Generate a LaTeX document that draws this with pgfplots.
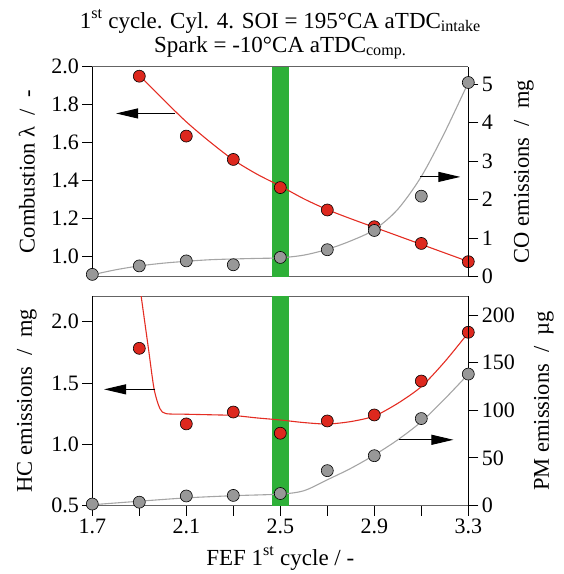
\documentclass[border=0pt]{standalone}
\usepackage{fontspec}
\setmainfont{Liberation Serif}
\usepackage{pgfplots}
\pgfplotsset{compat=1.18}
\usetikzlibrary{arrows.meta}

\definecolor{ptred}{RGB}{221,40,30}
\definecolor{linered}{RGB}{228,45,35}
\definecolor{ptgray}{RGB}{152,152,152}
\definecolor{linegray}{RGB}{165,165,165}
\definecolor{band}{RGB}{46,176,56}
\definecolor{framegray}{RGB}{100,100,100}
\newcommand\fs{\fontsize{22}{24}\selectfont}
\newcommand\fl{\fontsize{22.5}{24}\selectfont}
\newcommand\ft{\fontsize{23}{24}\selectfont}

\tikzset{pointer/.style={line width=1pt, -{Triangle[length=22pt,width=10pt]}}}

\pgfplotsset{
  panel/.style={
    scale only axis, width=376pt, xmin=1.7, xmax=3.3,
    tick align=outside, major tick length=10pt,
    tick style={black, line width=0.9pt},
    tick label style={font=\fs}, label style={font=\fl},
    /pgf/number format/assume math mode=true,
    clip mode=individual,
  },
  leftax/.style={
    panel, separate axis lines,
    x axis line style={draw=framegray, line width=1pt},
    y axis line style={draw=black, line width=1pt},
    ytick pos=left,
    yticklabel style={/pgf/number format/.cd, fixed, fixed zerofill, precision=1},
  },
  rightax/.style={
    panel, axis x line=none, axis y line*=right,
    y axis line style={draw=black, line width=1pt},
  },
  redcurve/.style={linered, line width=1.1pt, smooth, no markers},
  graycurve/.style={linegray, line width=1.1pt, smooth, no markers},
  redpts/.style={only marks, mark=*, mark size=6pt, mark options={fill=ptred, draw=black, line width=0.6pt}},
  graypts/.style={only marks, mark=*, mark size=6pt, mark options={fill=ptgray, draw=black, line width=0.6pt}},
}

\begin{document}
\begin{tikzpicture}[font=\fs]
\path[use as bounding box] (-92.3pt,-297.3pt) rectangle (471.7pt,276.7pt);

% title
\node[anchor=base, font=\ft] at (188pt,248.7pt) {1\textsuperscript{st} cycle. Cyl. 4. SOI = 195°CA aTDC\textsubscript{intake}};
\node[anchor=base, font=\ft] at (188pt,224.7pt) {Spark = -10°CA aTDC\textsubscript{comp.}};

% ---- top panel: combustion lambda (left) ----
\begin{axis}[leftax, at={(0pt,0pt)}, anchor=south west, height=210pt,
  ymin=0.895, ymax=2.0, ytick={1.0,1.2,1.4,1.6,1.8,2.0}, xtick=\empty,
  ylabel={Combustion λ \ / \ -},
  ylabel style={at={(axis description cs:-0.174,0.5)}, anchor=center}]
\fill[band] (axis cs:2.465,0.895) rectangle (axis cs:2.535,2.0);
\addplot[redcurve] coordinates {
  (1.9,1.955) (2.0,1.83) (2.1,1.71) (2.2,1.605) (2.3,1.51) (2.4,1.435)
  (2.5,1.372) (2.6,1.305) (2.7,1.248) (2.8,1.2) (2.9,1.155) (3.0,1.11)
  (3.1,1.065) (3.2,1.02) (3.3,0.975)};
\addplot[redpts] coordinates {
  (1.9,1.95) (2.1,1.635) (2.3,1.512) (2.5,1.364) (2.7,1.246)
  (2.9,1.158) (3.1,1.07) (3.3,0.974)};
\draw[pointer] (axis cs:2.052,1.754) -- (axis cs:1.801,1.754);
\end{axis}

% ---- top panel: CO emissions (right) ----
\begin{axis}[rightax, at={(0pt,0pt)}, anchor=south west, height=210pt,
  ymin=0, ymax=5.45, ytick={0,1,2,3,4,5},
  ylabel={CO emissions \ / \ mg},
  ylabel style={at={(axis description cs:1.148,0.5)}, anchor=center}]
\addplot[graycurve] coordinates {
  (1.7,0.05) (1.8,0.18) (1.9,0.28) (2.0,0.35) (2.1,0.40) (2.2,0.44)
  (2.3,0.46) (2.4,0.475) (2.5,0.49) (2.6,0.56) (2.7,0.71) (2.8,0.93)
  (2.9,1.22) (3.0,1.75) (3.1,2.6) (3.2,3.75) (3.3,5.04)};
\addplot[graypts] coordinates {
  (1.7,0.06) (1.9,0.28) (2.1,0.41) (2.3,0.31) (2.5,0.5) (2.7,0.70)
  (2.9,1.2) (3.1,2.09) (3.3,5.04)};
\draw[pointer] (axis cs:3.096,2.59) -- (axis cs:3.266,2.59);
\end{axis}

% ---- bottom panel: HC emissions (left) ----
\begin{axis}[leftax, at={(0pt,-228.8pt)}, anchor=south west, height=209.5pt,
  ymin=0.5, ymax=2.21, ytick={0.5,1.0,1.5,2.0},
  xtick={1.7,1.9,2.1,2.3,2.5,2.7,2.9,3.1,3.3},
  xticklabels={1.7,{},2.1,{},2.5,{},2.9,{},3.3},
  xtick pos=bottom,
  xlabel={FEF 1\textsuperscript{st} cycle / -},
  xlabel style={at={(axis description cs:0.5,0)}, anchor=base, yshift=-59.5pt, font=\ft},
  ylabel={HC emissions \ / \ mg},
  ylabel style={at={(axis description cs:-0.174,0.5)}, anchor=center}]
\fill[band] (axis cs:2.465,0.5) rectangle (axis cs:2.535,2.21);
\addplot[redcurve, tension=0.45] coordinates {
  (1.898,2.35) (1.910,2.18) (1.939,1.78) (1.963,1.45) (1.988,1.29)
  (2.014,1.25) (2.1,1.245) (2.215,1.24) (2.3,1.235) (2.4,1.215)
  (2.5,1.198) (2.6,1.177) (2.7,1.165) (2.8,1.185) (2.9,1.23)
  (3.0,1.334) (3.1,1.47) (3.2,1.674) (3.3,1.91)};
\addplot[redpts] coordinates {
  (1.9,1.783) (2.1,1.166) (2.3,1.263) (2.5,1.09) (2.7,1.19)
  (2.9,1.239) (3.1,1.516) (3.3,1.914)};
\draw[pointer] (axis cs:1.967,1.448) -- (axis cs:1.750,1.448);
\end{axis}

% ---- bottom panel: PM emissions (right) ----
\begin{axis}[rightax, at={(0pt,-228.8pt)}, anchor=south west, height=209.5pt,
  ymin=0, ymax=220, ytick={0,50,100,150,200},
  ylabel={PM emissions \ / \ µg},
  ylabel style={at={(axis description cs:1.201,0.5)}, anchor=center}]
\addplot[graycurve] coordinates {
  (1.7,0.8) (1.9,4.5) (2.1,8) (2.3,10.3) (2.5,12) (2.6,15.5) (2.7,27)
  (2.8,39) (2.9,53) (3.0,69) (3.1,88) (3.2,112) (3.3,138)};
\addplot[graypts] coordinates {
  (1.7,1.5) (1.9,3.5) (2.1,10) (2.3,10.6) (2.5,12.6) (2.7,36.6)
  (2.9,52.3) (3.1,91.3) (3.3,138)};
\draw[pointer] (axis cs:3.006,69) -- (axis cs:3.237,69);
\end{axis}
\end{tikzpicture}
\end{document}
